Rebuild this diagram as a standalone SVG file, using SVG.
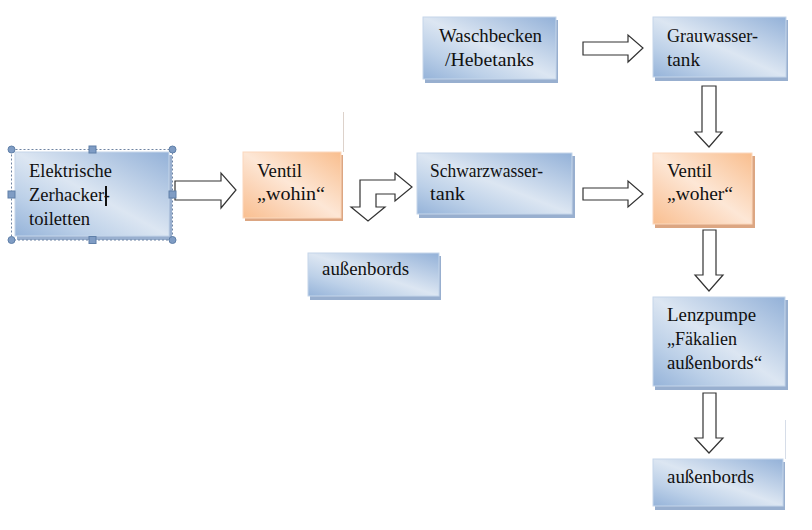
<svg xmlns="http://www.w3.org/2000/svg" width="812" height="530" viewBox="0 0 812 530">
<defs>
<linearGradient id="gBlue" x1="1" y1="0" x2="0" y2="1">
<stop offset="0" stop-color="#93b1d8"/>
<stop offset="0.5" stop-color="#dce6f2"/>
<stop offset="0.75" stop-color="#bcd0e8"/>
<stop offset="1" stop-color="#95b3d9"/>
</linearGradient>
<linearGradient id="gOrange" x1="1" y1="0" x2="0" y2="1">
<stop offset="0" stop-color="#f9be8e"/>
<stop offset="0.5" stop-color="#fde7d6"/>
<stop offset="0.75" stop-color="#fbd2b3"/>
<stop offset="1" stop-color="#f9bf90"/>
</linearGradient>
</defs>
<style>
.bx{fill:url(#gBlue);stroke:#c5d6ea;stroke-width:1}
.bs{fill:#98afcf}
.ox{fill:url(#gOrange);stroke:#fbd8bd;stroke-width:1}
.os{fill:#dca682}
text{font-family:'Liberation Serif','Times New Roman',serif;font-size:18px;fill:#111}
.ar{fill:#fff;stroke:#333;stroke-width:1.2;stroke-linejoin:miter}
.hc{fill:#7f9cc4;stroke:#5f7fa8;stroke-width:1}
.sel{fill:none;stroke:#6f84a3;stroke-width:1;stroke-dasharray:2 2}
.thin{stroke:#ddd2cb;stroke-width:1}
</style>

<g id="connectors">
<path class="ar" d="M175,181 L221,181 L221,173 L236,190 L221,208 L221,200 L175,200 Z"/>
<path class="ar" d="M360,180 L395,180 L395,173 L412,187 L395,201 L395,194 L376,194 L376,207 L385,207 L368,221 L351,207 L360,207 Z"/>
<path class="ar" d="M583,42 L628,42 L628,35 L643,48 L628,62 L628,55 L583,55 Z"/>
<path class="ar" d="M583,188 L628,188 L628,181 L643,194 L628,207 L628,200 L583,200 Z"/>
<path class="ar" d="M702,86 L716,86 L716,132 L722,132 L709,147 L695,132 L702,132 Z"/>
<path class="ar" d="M703,230 L716,230 L716,275 L723,275 L709,291 L695,275 L703,275 Z"/>
<path class="ar" d="M703,393 L716,393 L716,438 L723,438 L709,453 L695,438 L703,438 Z"/>
</g>

<line class="thin" x1="343.5" y1="112" x2="343.5" y2="152"/>
<line class="thin" x1="785.5" y1="420" x2="785.5" y2="459" style="stroke:#d6dde8"/>

<g id="node-zerhacker">
<rect class="bs" x="17" y="155" width="155" height="85"/>
<rect class="bx" x="15" y="152" width="154" height="84"/>
<text x="29" y="177" textLength="83" lengthAdjust="spacingAndGlyphs">Elektrische</text>
<text x="29" y="201" textLength="81" lengthAdjust="spacingAndGlyphs">Zerhacker-</text>
<text x="29" y="225" textLength="61" lengthAdjust="spacingAndGlyphs">toiletten</text>
<rect x="105" y="186" width="2" height="20" fill="#111"/>
<rect class="sel" x="11.5" y="149.5" width="161" height="90.5"/>
<circle class="hc" cx="11.5" cy="149.5" r="3.5"/>
<circle class="hc" cx="172.5" cy="149.5" r="3.5"/>
<circle class="hc" cx="11.5" cy="240" r="3.5"/>
<circle class="hc" cx="172.5" cy="240" r="3.5"/>
<rect class="hc" x="89" y="146" width="7" height="7"/>
<rect class="hc" x="89" y="236.5" width="7" height="7"/>
<rect class="hc" x="8" y="191" width="7" height="7"/>
<rect class="hc" x="169" y="191" width="7" height="7"/>
</g>

<g id="node-ventil-wohin">
<rect class="os" x="245" y="155" width="98" height="66"/>
<rect class="ox" x="243" y="152" width="98" height="66"/>
<text x="257" y="177" textLength="45" lengthAdjust="spacingAndGlyphs">Ventil</text>
<text x="257" y="200" textLength="68" lengthAdjust="spacingAndGlyphs">„wohin“</text>
</g>

<g id="node-schwarzwasser">
<rect class="bs" x="419" y="156" width="156" height="62"/>
<rect class="bx" x="417" y="153" width="155" height="61"/>
<text x="430" y="177" textLength="113" lengthAdjust="spacingAndGlyphs">Schwarzwasser-</text>
<text x="430" y="200" textLength="35" lengthAdjust="spacingAndGlyphs">tank</text>
</g>

<g id="node-aussenbords-1">
<rect class="bs" x="310" y="256" width="131" height="44"/>
<rect class="bx" x="308" y="253" width="131" height="43"/>
<text x="322" y="275" textLength="87" lengthAdjust="spacingAndGlyphs">außenbords</text>
</g>

<g id="node-waschbecken">
<rect class="bs" x="425" y="20" width="133" height="63"/>
<rect class="bx" x="423" y="17" width="133" height="62"/>
<text x="439" y="42" textLength="103" lengthAdjust="spacingAndGlyphs">Waschbecken</text>
<text x="445" y="66" textLength="89" lengthAdjust="spacingAndGlyphs">/Hebetanks</text>
</g>

<g id="node-grauwasser">
<rect class="bs" x="655" y="20" width="133" height="61"/>
<rect class="bx" x="653" y="17" width="133" height="60"/>
<text x="667" y="42" textLength="91" lengthAdjust="spacingAndGlyphs">Grauwasser-</text>
<text x="667" y="66" textLength="33" lengthAdjust="spacingAndGlyphs">tank</text>
</g>

<g id="node-ventil-woher">
<rect class="os" x="655" y="156" width="100" height="72"/>
<rect class="ox" x="653" y="153" width="99" height="71"/>
<text x="667" y="177" textLength="45" lengthAdjust="spacingAndGlyphs">Ventil</text>
<text x="667" y="200" textLength="66" lengthAdjust="spacingAndGlyphs">„woher“</text>
</g>

<g id="node-lenzpumpe">
<rect class="bs" x="655" y="300" width="133" height="90"/>
<rect class="bx" x="653" y="297" width="132" height="89"/>
<text x="667" y="321" textLength="89" lengthAdjust="spacingAndGlyphs">Lenzpumpe</text>
<text x="667" y="345" textLength="70" lengthAdjust="spacingAndGlyphs">„Fäkalien</text>
<text x="667" y="369" textLength="95" lengthAdjust="spacingAndGlyphs">außenbords“</text>
</g>

<g id="node-aussenbords-2">
<rect class="bs" x="655" y="462" width="130" height="48"/>
<rect class="bx" x="653" y="459" width="130" height="47"/>
<text x="667" y="483" textLength="87" lengthAdjust="spacingAndGlyphs">außenbords</text>
</g>
</svg>
